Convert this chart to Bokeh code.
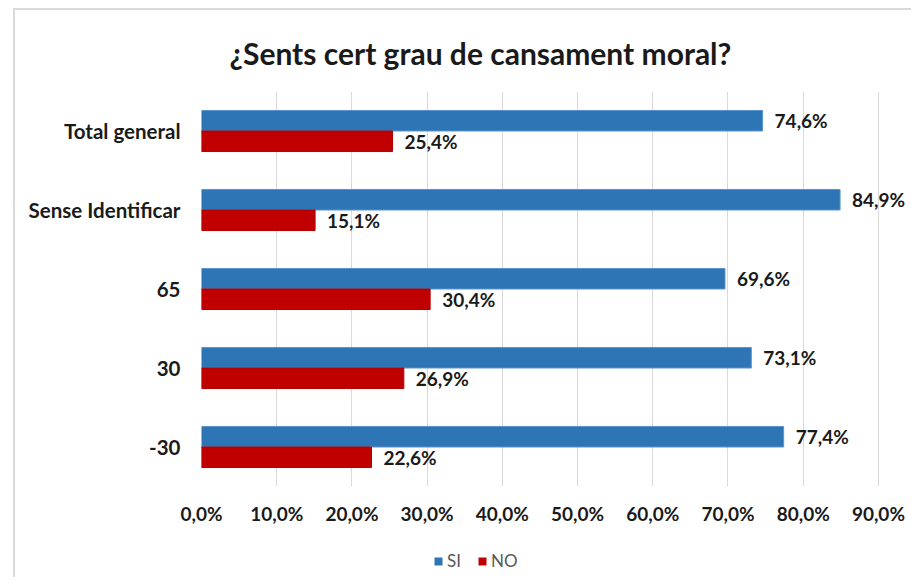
from bokeh.plotting import figure
from bokeh.layouts import column
from bokeh.models import (FactorRange, FixedTicker, Legend, LegendItem, ColumnDataSource, Title)
from bokeh.transform import dodge
from bokeh.embed import file_html
from bokeh.resources import INLINE
from bokeh.core.properties import value

categories = ["Total general", "Sense Identificar", "65", "30", "-30"]
si_values = [74.6, 84.9, 69.6, 73.1, 77.4]
no_values = [25.4, 15.1, 30.4, 26.9, 22.6]
series_names = ["SI", "NO"]
x_ticks = [0, 10, 20, 30, 40, 50, 60, 70, 80, 90]
x_tick_labels = ["0,0%", "10,0%", "20,0%", "30,0%", "40,0%", "50,0%",
                 "60,0%", "70,0%", "80,0%", "90,0%"]
title_text = "¿Sents cert grau de cansament moral?"

FONT = "Lato"
BLUE = "#2E75B6"
RED = "#C00000"
TXT = "#1a1a1a"
GRID = "#d9d9d9"

def fmt(v):
    return f"{v:.1f}".replace(".", ",") + "%"

src = ColumnDataSource(dict(
    cat=categories,
    si=si_values,
    no=no_values,
    si_lab=[fmt(v) for v in si_values],
    no_lab=[fmt(v) for v in no_values],
))

W = 911
p = figure(width=W, height=545, output_backend="svg", toolbar_location=None,
           y_range=FactorRange(factors=list(reversed(categories)), range_padding=0),
           x_range=(0, 94),
           min_border_left=201, min_border_right=3, min_border_top=91,
           min_border_bottom=59)

p.border_fill_color = None
p.background_fill_color = "white"
p.styles = {
    "background": (f"linear-gradient({GRID},{GRID}) 13px 8px / 2px 100% no-repeat, "
                   f"linear-gradient({GRID},{GRID}) 13px 8px / 100% 2px no-repeat, white"),
}

p.title = Title(text=title_text, text_font=FONT, text_font_size="30px",
                text_font_style="bold", text_color=TXT, align="left",
                offset=28, standoff=42)

r_si = p.hbar(y=dodge("cat", 0.13, range=p.y_range), right="si", left=0, height=0.26,
              source=src, fill_color=BLUE, line_color="#5A93CC", line_width=1)
r_no = p.hbar(y=dodge("cat", -0.13, range=p.y_range), right="no", left=0, height=0.26,
              source=src, fill_color=RED, line_color="#B00000", line_width=1)

for col, lab, off in (("si", "si_lab", 0.13), ("no", "no_lab", -0.13)):
    p.text(x=col, y=dodge("cat", off, range=p.y_range), text=lab, source=src,
           x_offset=12, text_align="left", text_baseline="middle",
           text_font=value(FONT), text_font_style="bold", text_font_size="19px",
           text_color=TXT)

p.xaxis.ticker = FixedTicker(ticks=x_ticks)
p.xaxis.major_label_overrides = {t: l for t, l in zip(x_ticks, x_tick_labels)}
p.xaxis.major_label_text_font = FONT
p.xaxis.major_label_text_font_style = "bold"
p.xaxis.major_label_text_font_size = "19px"
p.xaxis.major_label_text_color = TXT
p.xaxis.major_label_standoff = 15
p.xaxis.axis_line_color = None
p.xaxis.major_tick_line_color = None
p.xaxis.minor_tick_line_color = None
p.xaxis.major_tick_out = 0
p.xaxis.major_tick_in = 0
p.xaxis.minor_tick_out = 0

p.yaxis.major_label_text_font = FONT
p.yaxis.major_label_text_font_style = "bold"
p.yaxis.major_label_text_font_size = "20.5px"
p.yaxis.major_label_text_color = TXT
p.yaxis.major_label_standoff = 21
p.yaxis.axis_line_color = None
p.yaxis.major_tick_line_color = None
p.yaxis.major_tick_out = 0
p.yaxis.major_tick_in = 0

p.xgrid.grid_line_color = GRID
p.xgrid.ticker = FixedTicker(ticks=x_ticks)
p.ygrid.grid_line_color = None
p.outline_line_color = None

# legend strip below the chart (its proxy bars are zero-height and out of view)
lg = figure(width=W, height=32, output_backend="svg", toolbar_location=None,
            x_axis_type=None, y_axis_type=None, x_range=(-2, -1),
            y_range=FactorRange(factors=categories), min_border=0)
lg.border_fill_color = None
lg.background_fill_color = None
lg.outline_line_color = None
lg.xgrid.visible = False
lg.ygrid.visible = False
lg.styles = {
    "background": f"linear-gradient({GRID},{GRID}) 13px 0px / 2px 100% no-repeat, white",
}
l_si = lg.hbar(y="cat", right="si", left=0, height=0, source=src, fill_color=BLUE,
               line_color=None)
l_no = lg.hbar(y="cat", right="no", left=0, height=0, source=src, fill_color=RED,
               line_color=None)

legend = Legend(items=[LegendItem(label=series_names[0], renderers=[l_si]),
                       LegendItem(label=series_names[1], renderers=[l_no])],
                orientation="horizontal", location=(232, 6),
                glyph_width=10, glyph_height=10, label_text_font=FONT,
                label_text_font_size="17px", label_text_color="#595959",
                label_standoff=4, spacing=10, padding=0, margin=0,
                border_line_color=None, background_fill_alpha=0)
lg.add_layout(legend)

layout = column(p, lg, spacing=0)

open("out.html", "w").write(file_html(layout, INLINE))
